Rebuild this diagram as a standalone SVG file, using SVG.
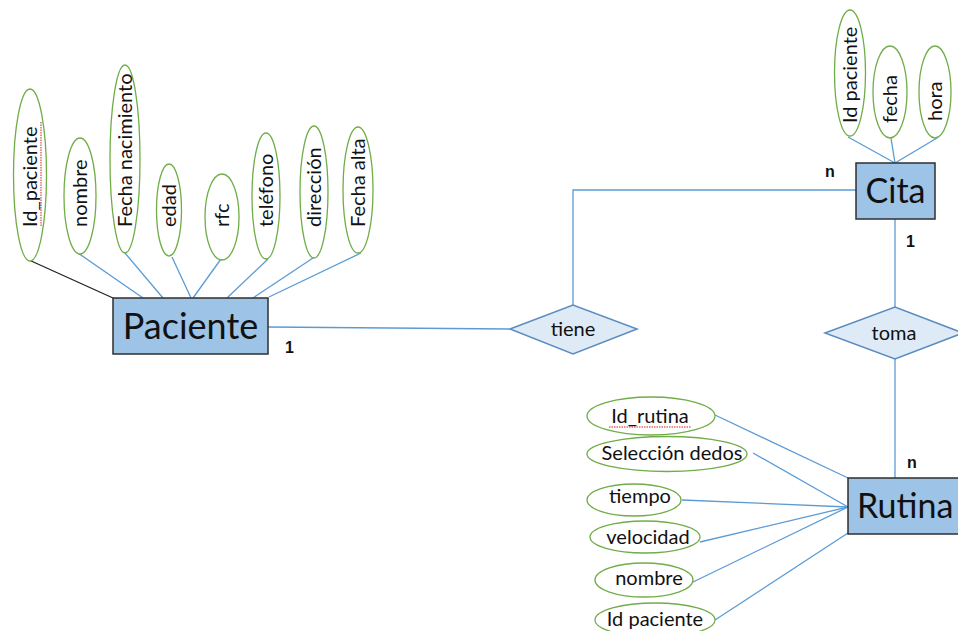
<svg xmlns="http://www.w3.org/2000/svg" width="958" height="631" viewBox="0 0 958 631">
<style>
.ent{fill:#9dc3e6;stroke:#2f2f2f;stroke-width:1.5}
.ent-t{font-family:Lato,"Open Sans",sans-serif;font-size:34px;fill:#111}
.rel{fill:#deebf7;stroke:#5b8cc0;stroke-width:1.5}
.rel-t{font-family:Lato,"Open Sans",sans-serif;font-size:20px;fill:#111;text-anchor:middle}
.att{fill:#fff;stroke:#70ad47;stroke-width:1.3}
.att-t{font-family:Lato,"Open Sans",sans-serif;font-size:20px;fill:#111}
.ln{stroke:#5b9bd5;stroke-width:1.3;fill:none}
.card{font-family:"Liberation Sans",Arial,sans-serif;font-size:16px;font-weight:bold;fill:#111}
.sq{stroke:#d02020;stroke-width:1;fill:none;stroke-dasharray:1.5 1}
</style>
<rect width="958" height="631" fill="#fff"/>
<g id="connectors">
<line x1="29" y1="260" x2="113" y2="298" stroke="#222" stroke-width="1.3"/>
<line class="ln" x1="78" y1="253" x2="143" y2="298"/>
<line class="ln" x1="125" y1="253" x2="163" y2="298"/>
<line class="ln" x1="172" y1="257" x2="191" y2="298"/>
<line class="ln" x1="221" y1="259" x2="193" y2="298"/>
<line class="ln" x1="268" y1="259" x2="227" y2="298"/>
<line class="ln" x1="313" y1="258" x2="253" y2="298"/>
<line class="ln" x1="361" y1="253" x2="269" y2="297"/>
<polyline class="ln" points="268,327 510,329"/>
<polyline class="ln" points="573,305 573,190 856,190"/>
<line class="ln" x1="848" y1="137" x2="895" y2="163"/>
<line class="ln" x1="891" y1="138" x2="895" y2="163"/>
<line class="ln" x1="937" y1="138" x2="895" y2="163"/>
<line class="ln" x1="895" y1="219" x2="895" y2="307"/>
<line class="ln" x1="895" y1="359" x2="895" y2="478"/>
<line class="ln" x1="715" y1="415" x2="848" y2="478"/>
<line class="ln" x1="753" y1="453" x2="848" y2="507"/>
<line class="ln" x1="682" y1="500" x2="848" y2="507"/>
<line class="ln" x1="700" y1="542" x2="848" y2="507"/>
<line class="ln" x1="693" y1="582" x2="848" y2="507"/>
<line class="ln" x1="715" y1="620" x2="848" y2="533"/>
</g>
<g id="paciente">
<rect class="ent" x="113" y="298" width="155" height="56"/>
<text class="ent-t" x="190.5" y="339" text-anchor="middle" style="font-size:36px">Paciente</text>
</g>
<g id="cita">
<rect class="ent" x="856" y="163" width="79" height="56"/>
<text class="ent-t" x="895.5" y="203" text-anchor="middle">Cita</text>
</g>
<g id="rutina">
<rect class="ent" x="848" y="478" width="120" height="56"/>
<text class="ent-t" x="857" y="518">Rutina</text>
</g>
<g id="tiene">
<polygon class="rel" points="510,329 573,305 637,329 573,354"/>
<text class="rel-t" x="573" y="336">tiene</text>
</g>
<g id="toma">
<polygon class="rel" points="825,333 895,307 963,333 895,359"/>
<text class="rel-t" x="894" y="340">toma</text>
</g>
<g id="att-id-paciente">
<ellipse class="att" cx="30" cy="175" rx="16.5" ry="86"/>
<text class="att-t" transform="translate(37,227) rotate(-90)">Id_paciente</text>
<path class="sq" d="M41,226 L41,122"/>
</g>
<g id="att-nombre">
<ellipse class="att" cx="80" cy="196" rx="16" ry="58"/>
<text class="att-t" transform="translate(87,227) rotate(-90)">nombre</text>
</g>
<g id="att-fecha-nacimiento">
<ellipse class="att" cx="125" cy="159" rx="15" ry="94"/>
<text class="att-t" transform="translate(132,227) rotate(-90)">Fecha nacimiento</text>
</g>
<g id="att-edad">
<ellipse class="att" cx="169" cy="210" rx="12.5" ry="46"/>
<text class="att-t" transform="translate(176,227) rotate(-90)">edad</text>
</g>
<g id="att-rfc">
<ellipse class="att" cx="222" cy="217" rx="17" ry="43"/>
<text class="att-t" transform="translate(229,227) rotate(-90)">rfc</text>
</g>
<g id="att-telefono">
<ellipse class="att" cx="266" cy="196" rx="14" ry="63"/>
<text class="att-t" transform="translate(273,227) rotate(-90)">teléfono</text>
</g>
<g id="att-direccion">
<ellipse class="att" cx="314" cy="192" rx="14" ry="66"/>
<text class="att-t" transform="translate(321,227) rotate(-90)">dirección</text>
</g>
<g id="att-fecha-alta">
<ellipse class="att" cx="358" cy="190" rx="15" ry="63"/>
<text class="att-t" transform="translate(365,227) rotate(-90)">Fecha alta</text>
</g>
<g id="att-cita-id-paciente">
<ellipse class="att" cx="850" cy="73" rx="15.5" ry="63"/>
<text class="att-t" transform="translate(857,123) rotate(-90)">Id paciente</text>
</g>
<g id="att-cita-fecha">
<ellipse class="att" cx="890" cy="92" rx="17" ry="46"/>
<text class="att-t" transform="translate(897,123) rotate(-90)">fecha</text>
</g>
<g id="att-cita-hora">
<ellipse class="att" cx="935" cy="92" rx="16" ry="46"/>
<text class="att-t" transform="translate(942,121) rotate(-90)">hora</text>
</g>
<g id="att-id-rutina">
<ellipse class="att" cx="651" cy="416" rx="64" ry="19"/>
<text class="att-t" x="650" y="423" text-anchor="middle">Id_rutina</text>
<path class="sq" d="M609,427 L691,427"/>
</g>
<g id="att-seleccion-dedos">
<ellipse class="att" cx="667" cy="454" rx="80" ry="17.5"/>
<text class="att-t" x="672" y="460" text-anchor="middle">Selección dedos</text>
</g>
<g id="att-tiempo">
<ellipse class="att" cx="634" cy="500" rx="47" ry="16"/>
<text class="att-t" x="640" y="503" text-anchor="middle">tiempo</text>
</g>
<g id="att-velocidad">
<ellipse class="att" cx="645" cy="537" rx="55" ry="16"/>
<text class="att-t" x="648" y="544" text-anchor="middle">velocidad</text>
</g>
<g id="att-rutina-nombre">
<ellipse class="att" cx="644" cy="580" rx="49" ry="17"/>
<text class="att-t" x="649" y="585" text-anchor="middle">nombre</text>
</g>
<g id="att-rutina-id-paciente">
<ellipse class="att" cx="655" cy="620" rx="60" ry="17"/>
<text class="att-t" x="655" y="626" text-anchor="middle">Id paciente</text>
</g>
<g id="cardinalities">
<text class="card" x="285" y="353">1</text>
<text class="card" x="825" y="177">n</text>
<text class="card" x="906" y="247">1</text>
<text class="card" x="907" y="468">n</text>
</g>
</svg>
